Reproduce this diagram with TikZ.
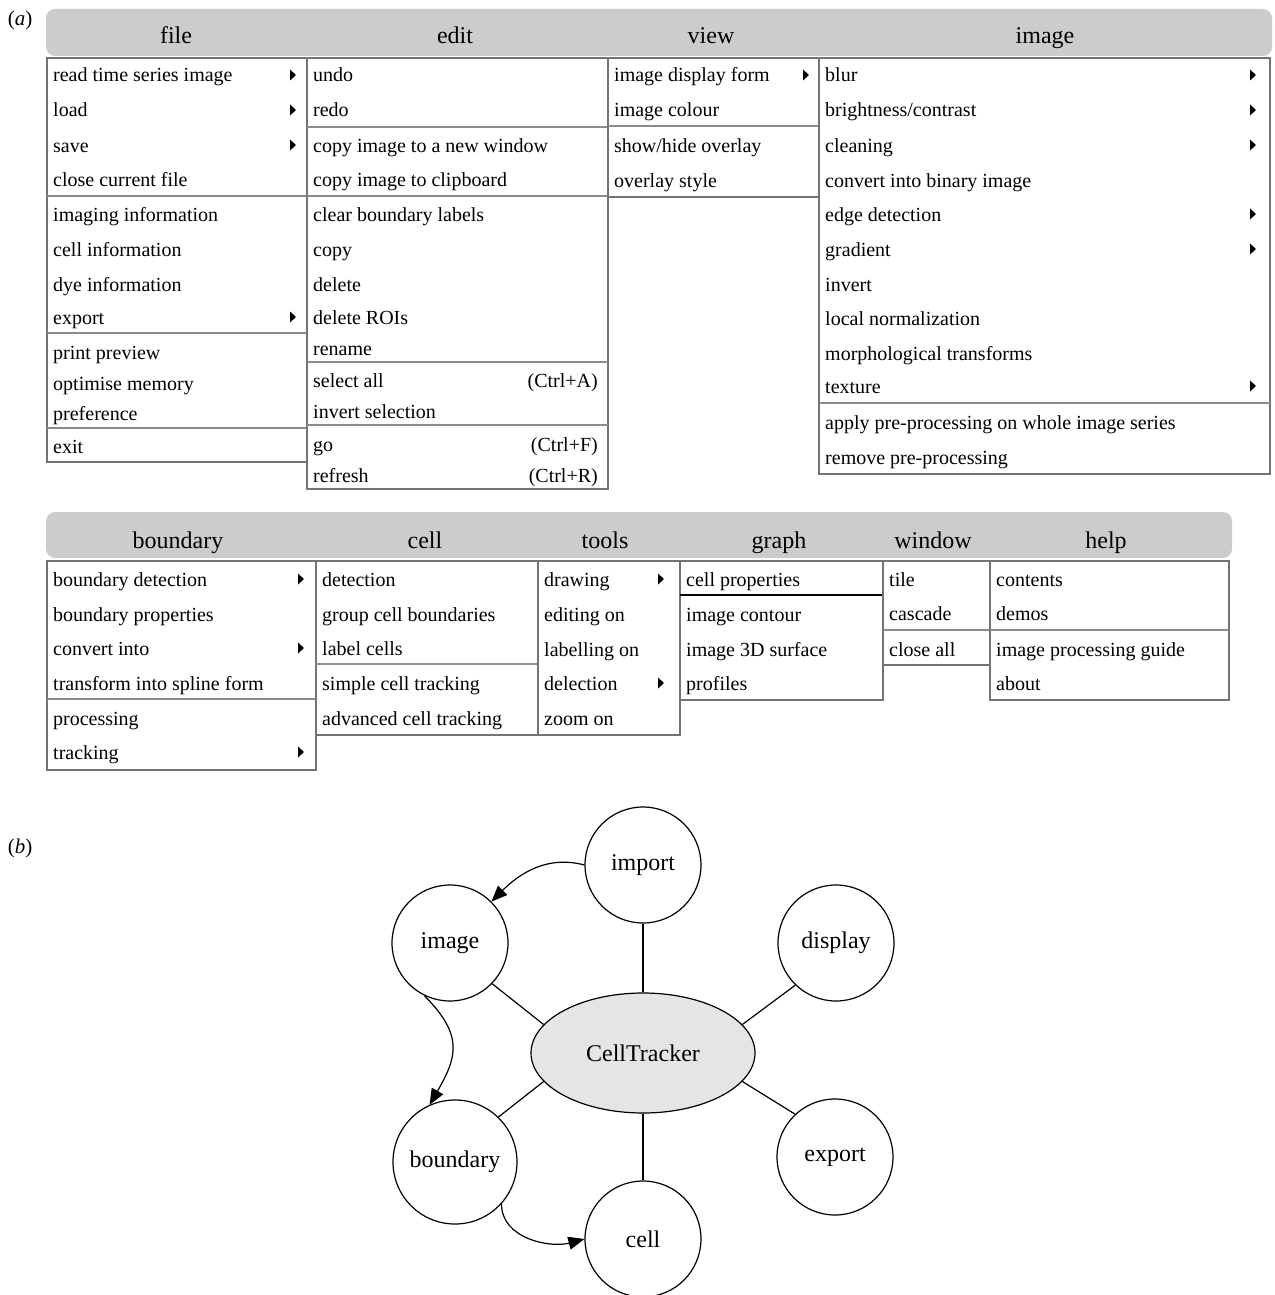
\documentclass[tikz,border=0pt]{standalone}
\usepackage{fontspec}
\setmainfont{Liberation Serif}
\usetikzlibrary{shapes.geometric,arrows.meta}

\tikzset{
  menubar/.style={fill=gray!40, rounded corners=9pt},
  menubox/.style={draw=black!55, line width=1.2pt},
  divider/.style={draw=black!45, line width=1.2pt},
  head/.style={font=\fontsize{24}{28}\selectfont, text height=16pt, text depth=0pt, inner sep=0pt},
  item/.style={anchor=west, font=\fontsize{20}{24}\selectfont, text height=14pt, text depth=0pt, inner sep=0pt},
  shortcut/.style={item, anchor=east},
  topic/.style={circle, draw, line width=1.2pt, minimum size=116pt, inner sep=0pt, font=\fontsize{24}{28}\selectfont},
  hub/.style={ellipse, draw, fill=gray!20, line width=1.2pt, minimum width=224pt, minimum height=120pt, inner sep=0pt, font=\fontsize{24}{28}\selectfont},
  flow/.style={-{Triangle[length=16pt,width=13pt]}, line width=1.2pt},
}
% small black triangle for a submenu
\newcommand{\subarr}[2]{\fill (#1,#2) ++(-3,5.5) -- ++(6,-5.5) -- ++(-6,-5.5) -- cycle;}

\begin{document}
\begin{tikzpicture}[x=1pt, y=1pt]
  \useasboundingbox (0,0) rectangle (1274,-1295);

  \node[font=\fontsize{21}{25}\selectfont] (la) at (20,-20) {(\textit{a})};
  \node[font=\fontsize{21}{25}\selectfont] (lb) at (20,-848) {(\textit{b})};

  % First menu bar
  \fill[menubar] (46,-9) rectangle (1272,-56);
  \node[head] (hfile) at (176,-36) {file};
  \node[head] (hedit) at (455,-36) {edit};
  \node[head] (hview) at (711,-36) {view};
  \node[head] (himage) at (1045,-36) {image};

  % file
  \draw[menubox] (47,-58) rectangle (307,-462);
  \draw[divider] (47,-196) -- (307,-196);
  \draw[divider] (47,-333) -- (307,-333);
  \draw[divider] (47,-428) -- (307,-428);
  \node[item] (f1) at (53,-75) {read time series image};
  \node[item] (f2) at (53,-110) {load};
  \node[item] (f3) at (53,-145) {save};
  \node[item] (f4) at (53,-179) {close current file};
  \node[item] (f5) at (53,-214) {imaging information};
  \node[item] (f6) at (53,-249) {cell information};
  \node[item] (f7) at (53,-284) {dye information};
  \node[item] (f8) at (53,-317) {export};
  \node[item] (f9) at (53,-352) {print preview};
  \node[item] (f10) at (53,-383) {optimise memory};
  \node[item] (f11) at (53,-413) {preference};
  \node[item] (f12) at (53,-446) {exit};
  \subarr{293}{-75} \subarr{293}{-110} \subarr{293}{-145} \subarr{293}{-317}

  % edit
  \draw[menubox] (307,-58) rectangle (608,-489);
  \draw[divider] (307,-127) -- (608,-127);
  \draw[divider] (307,-196) -- (608,-196);
  \draw[divider] (307,-362) -- (608,-362);
  \draw[divider] (307,-425) -- (608,-425);
  \node[item] (e1) at (313,-75) {undo};
  \node[item] (e2) at (313,-110) {redo};
  \node[item] (e3) at (313,-145) {copy image to a new window};
  \node[item] (e4) at (313,-179) {copy image to clipboard};
  \node[item] (e5) at (313,-214) {clear boundary labels};
  \node[item] (e6) at (313,-249) {copy};
  \node[item] (e7) at (313,-284) {delete};
  \node[item] (e8) at (313,-317) {delete ROIs};
  \node[item] (e9) at (313,-348) {rename};
  \node[item] (e10) at (313,-380) {select all};
  \node[item] (e11) at (313,-411) {invert selection};
  \node[item] (e12) at (313,-444) {go};
  \node[item] (e13) at (313,-475) {refresh};
  \node[shortcut] (k1) at (598,-380) {(Ctrl+A)};
  \node[shortcut] (k2) at (598,-444) {(Ctrl+F)};
  \node[shortcut] (k3) at (598,-475) {(Ctrl+R)};

  % view
  \draw[menubox] (608,-58) rectangle (819,-197);
  \draw[divider] (608,-126) -- (819,-126);
  \node[item] (v1) at (614,-75) {image display form};
  \node[item] (v2) at (614,-110) {image colour};
  \node[item] (v3) at (614,-145) {show/hide overlay};
  \node[item] (v4) at (614,-180) {overlay style};
  \subarr{806}{-75}

  % image
  \draw[menubox] (819,-58) rectangle (1270,-474);
  \draw[divider] (819,-403) -- (1270,-403);
  \node[item] (i1) at (825,-75) {blur};
  \node[item] (i2) at (825,-110) {brightness/contrast};
  \node[item] (i3) at (825,-145) {cleaning};
  \node[item] (i4) at (825,-180) {convert into binary image};
  \node[item] (i5) at (825,-214) {edge detection};
  \node[item] (i6) at (825,-249) {gradient};
  \node[item] (i7) at (825,-284) {invert};
  \node[item] (i8) at (825,-318) {local normalization};
  \node[item] (i9) at (825,-353) {morphological transforms};
  \node[item] (i10) at (825,-386) {texture};
  \node[item] (i11) at (825,-422) {apply pre-processing on whole image series};
  \node[item] (i12) at (825,-457) {remove pre-processing};
  \subarr{1253}{-75} \subarr{1253}{-110} \subarr{1253}{-145}
  \subarr{1253}{-214} \subarr{1253}{-249} \subarr{1253}{-386}

  % Second menu bar
  \fill[menubar] (46,-512) rectangle (1232,-558);
  \node[head] (hboundary) at (178,-540) {boundary};
  \node[head] (hcell) at (425,-540) {cell};
  \node[head] (htools) at (605,-540) {tools};
  \node[head] (hgraph) at (779,-540) {graph};
  \node[head] (hwindow) at (933,-540) {window};
  \node[head] (hhelp) at (1106,-540) {help};

  % boundary
  \draw[menubox] (47,-561) rectangle (316,-770);
  \draw[divider] (47,-699) -- (316,-699);
  \node[item] (b1) at (53,-579) {boundary detection};
  \node[item] (b2) at (53,-614) {boundary properties};
  \node[item] (b3) at (53,-648) {convert into};
  \node[item] (b4) at (53,-683) {transform into spline form};
  \node[item] (b5) at (53,-718) {processing};
  \node[item] (b6) at (53,-752) {tracking};
  \subarr{301}{-579} \subarr{301}{-648} \subarr{301}{-752}

  % cell
  \draw[menubox] (316,-561) rectangle (538,-735);
  \draw[divider] (316,-664) -- (538,-664);
  \node[item] (c1) at (322,-579) {detection};
  \node[item] (c2) at (322,-614) {group cell boundaries};
  \node[item] (c3) at (322,-648) {label cells};
  \node[item] (c4) at (322,-683) {simple cell tracking};
  \node[item] (c5) at (322,-718) {advanced cell tracking};

  % tools
  \draw[menubox] (538,-561) rectangle (680,-735);
  \node[item] (t1) at (544,-579) {drawing};
  \node[item] (t2) at (544,-614) {editing on};
  \node[item] (t3) at (544,-649) {labelling on};
  \node[item] (t4) at (544,-683) {delection};
  \node[item] (t5) at (544,-718) {zoom on};
  \subarr{661}{-579} \subarr{661}{-683}

  % graph
  \draw[menubox] (680,-561) rectangle (883,-700);
  \draw[line width=1.5pt] (680,-595) -- (883,-595);
  \node[item] (g1) at (686,-579) {cell properties};
  \node[item] (g2) at (686,-614) {image contour};
  \node[item] (g3) at (686,-649) {image 3D surface};
  \node[item] (g4) at (686,-683) {profiles};

  % window
  \draw[menubox] (883,-561) rectangle (990,-665);
  \draw[divider] (883,-630) -- (990,-630);
  \node[item] (w1) at (889,-579) {tile};
  \node[item] (w2) at (889,-613) {cascade};
  \node[item] (w3) at (889,-649) {close all};

  % help
  \draw[menubox] (990,-561) rectangle (1229,-700);
  \draw[divider] (990,-630) -- (1229,-630);
  \node[item] (h1) at (996,-579) {contents};
  \node[item] (h2) at (996,-613) {demos};
  \node[item] (h3) at (996,-649) {image processing guide};
  \node[item] (h4) at (996,-683) {about};

  % Module graph
  \node[hub] (ct) at (643,-1053) {CellTracker};
  \node[topic] (import) at (643,-865) {import};
  \node[topic] (image) at (450,-943) {image};
  \node[topic] (display) at (836,-943) {display};
  \node[topic, minimum size=124pt] (boundary) at (455,-1162) {boundary};
  \node[topic] (export) at (835,-1157) {export};
  \node[topic] (cell) at (643,-1239) {cell};

  \draw[line width=1.2pt] (ct) -- (import);
  \draw[line width=1.2pt] (ct) -- (cell);
  \draw[line width=1.2pt] (ct.164) -- (image.-44);
  \draw[line width=1.2pt] (ct.16) -- (display.-134);
  \draw[line width=1.2pt] (ct.196) -- (boundary.46);
  \draw[line width=1.2pt] (ct.-16) -- (export.133);

  \draw[flow] (import.west) to[out=165, in=45] (image.north east);
  \draw[flow] (image.-116) to[out=-45, in=60, looseness=1.3] (boundary.114);
  \draw[flow] (boundary.-42) to[out=-90, in=195] (cell.west);
\end{tikzpicture}
\end{document}
